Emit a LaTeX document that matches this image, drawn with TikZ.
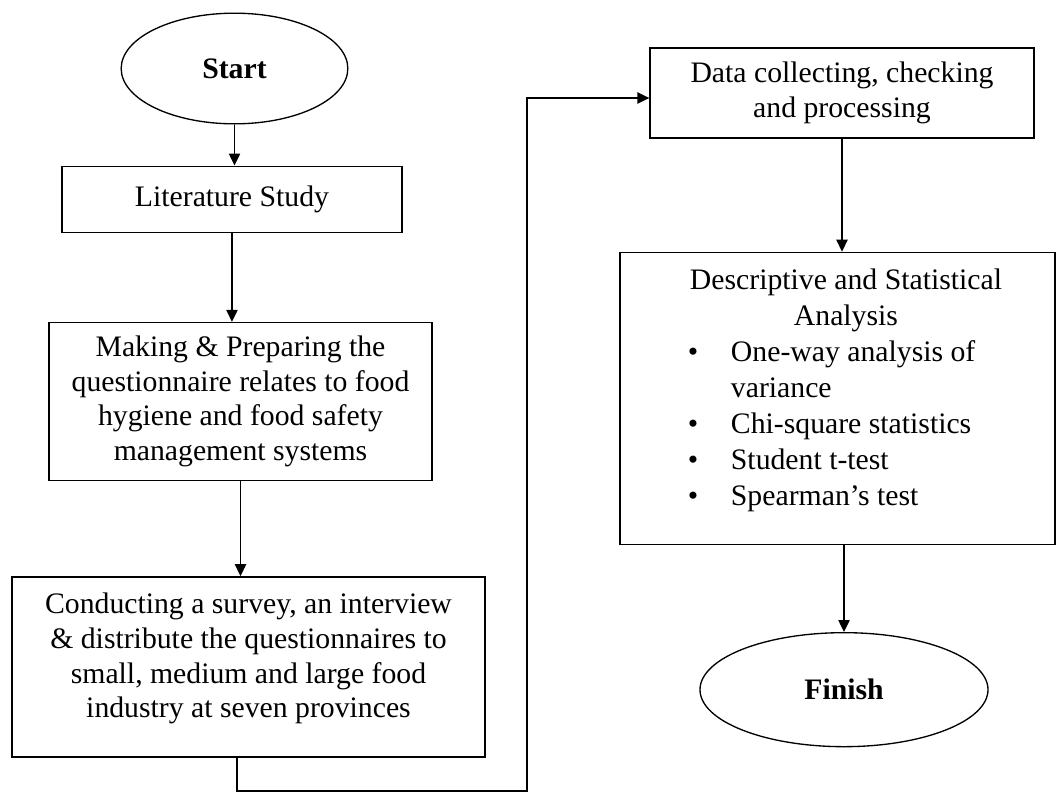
\documentclass[tikz,border=0pt]{standalone}
\usepackage{fontspec}
\setmainfont{Liberation Serif}
\usetikzlibrary{positioning}
\usetikzlibrary{arrows.meta}
\usetikzlibrary{shapes.geometric}

\newcommand{\bodyfont}{\fontsize{22.3}{26}\selectfont}
\newcommand{\bul}{\hspace*{51pt}\makebox[32.25pt][l]{\textbullet}}
\newcommand{\liftup}[2]{\raisebox{6pt}[\height][\depth]{\parbox{#1}{#2}}}

\tikzset{
  plainbox/.style={draw, rectangle, inner sep=0pt, font=\bodyfont},
  box/.style={plainbox, align=center},
  term/.style={draw, ellipse, inner sep=0pt, font=\bodyfont\bfseries},
  arr/.style={-{Triangle[length=9pt,width=8.5pt]}},
}

\begin{document}
\begin{tikzpicture}[x=0.75pt, y=-0.75pt, line width=1pt]
    \useasboundingbox (0,0) rectangle (1057,794);
    %% 左列
    \node[term, minimum width=170pt, minimum height=83pt] (start) at (234.5,68.5) {Start};
    \node[box, minimum width=255pt, minimum height=49.5pt,
          below=30.75pt of start, xshift=-1.9pt] (lit) {Literature Study};
    \node[box, minimum width=287.25pt, minimum height=118.5pt,
          below=66.75pt of lit, xshift=6.4pt] (making)
        {Making \& Preparing the\\ questionnaire relates to food\\
         hygiene and food safety\\ management systems};
    \node[plainbox, minimum width=354.75pt, minimum height=135pt,
          below=71.25pt of making, xshift=6pt] (conduct)
        {\liftup{354.75pt}{\centering
         Conducting a survey, an interview\\
         \& distribute the questionnaires to\\
         small, medium and large food\\
         industry at seven provinces}};
    %% 右列
    \node[box, minimum width=288pt, minimum height=67.5pt] (data) at (842,93)
        {Data collecting, checking\\ and processing};
    \node[plainbox, minimum width=326.25pt, minimum height=219pt,
          below=84.75pt of data, xshift=-3.4pt] (desc)
        {\liftup{326.25pt}{\fontsize{22.3}{27}\selectfont
         {\centering \hspace*{12.75pt}Descriptive and Statistical\\
          \hspace*{12.75pt}Analysis\par}
         \bul One-way analysis of\\
         \hspace*{83.25pt}variance\\
         \bul Chi-square statistics\\
         \bul Student t-test\\
         \bul Spearman's test}};
    \node[term, minimum width=216pt, minimum height=85.5pt,
          below=65.25pt of desc, xshift=4.9pt] (finish) {Finish};
    % 连线
    \draw[arr] (start.south) -- (start.south |- lit.north);
    \draw[arr] (lit.south) -- (lit.south |- making.north);
    \draw[arr] (making.south) -- (making.south |- conduct.north);
    \draw[arr] (data.south) -- (data.south |- desc.north);
    \draw[arr] (finish.north |- desc.south) -- (finish.north);
    % 回到右列
    \coordinate (c1) at (237,791);
    \coordinate (c2) at (527,791);
    \coordinate (c3) at (527,98);
    \draw[arr] (c1 |- conduct.south) -- (c1) -- (c2) -- (c3) -- (c3 -| data.west);
\end{tikzpicture}
\end{document}
